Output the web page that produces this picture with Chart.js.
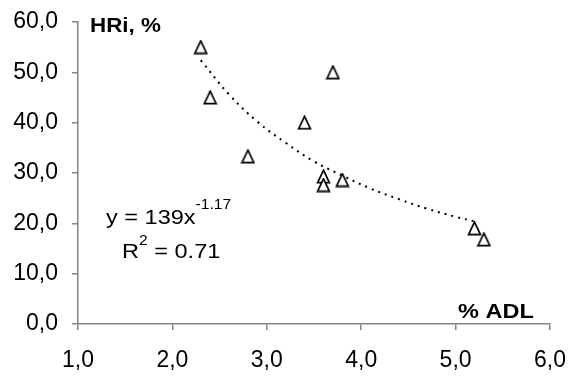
<!DOCTYPE html>
<html>
<head>
<meta charset="utf-8">
<script src="https://cdn.jsdelivr.net/npm/chart.js@4/dist/chart.umd.min.js"></script>
<style>
  html, body { margin: 0; padding: 0; background: #fff; }
  #wrap { width: 571px; height: 376px; }
</style>
</head>
<body>
<div id="wrap"><canvas id="grafica"></canvas></div>
<script>
// Puntos medidos (% ADL, HRi %)
const adl = [2.3, 2.4, 2.8, 3.4, 3.6, 3.6, 3.7, 3.8, 5.2, 5.3];
const hri = [55.0, 45.0, 33.3, 40.0, 29.3, 27.6, 50.0, 28.6, 19.0, 16.8];

// Línea de tendencia
const tendX = [2.3, 2.6, 2.9, 3.2, 3.5, 3.8, 4.1, 4.4, 4.7, 5.0, 5.2];
const tendY = [52.4, 45.6, 40.2, 36.0, 32.3, 29.5, 26.9, 24.8, 22.9, 21.3, 20.4];

const xTicks = [1, 2, 3, 4, 5, 6];
const yTicks = [0, 10, 20, 30, 40, 50, 60];

const fuente = "'Liberation Sans', Arial, sans-serif";
const gris = "#848484";
const estirar = 1.12; // el original está algo ensanchado

function coma(v) {
  return Number(v).toFixed(1).replace(".", ",");
}

// marcador triangular hueco, algo más alto que ancho
function triangulo() {
  const c = document.createElement("canvas");
  c.width = 15;
  c.height = 15;
  const g = c.getContext("2d");
  g.fillStyle = "#fff";
  g.strokeStyle = "#000";
  g.lineWidth = 1.7;
  g.lineJoin = "miter";
  g.beginPath();
  g.moveTo(7.5, 1.2);
  g.lineTo(13.4, 13.6);
  g.lineTo(1.6, 13.6);
  g.closePath();
  g.fill();
  g.stroke();
  return c;
}

// escribe texto ensanchado; devuelve la x final
function texto(ctx, s, x, y, font) {
  ctx.font = font;
  ctx.save();
  ctx.translate(x, y);
  ctx.scale(estirar, 1);
  ctx.fillText(s, 0, 0);
  ctx.restore();
  return x + ctx.measureText(s).width * estirar;
}

// Textos: títulos de ejes y ecuación
const textos = {
  id: "textos",
  afterDraw(chart) {
    const ctx = chart.ctx;
    ctx.save();
    ctx.fillStyle = "#000";
    ctx.textBaseline = "alphabetic";
    ctx.textAlign = "left";

    texto(ctx, "HRi, %", 90, 32, "bold 20px " + fuente);
    texto(ctx, "% ADL", 458, 318, "bold 21px " + fuente);

    let x = texto(ctx, "y = 139x", 106, 224, "21px " + fuente);
    texto(ctx, "-1.17", x, 209, "14px " + fuente);

    x = texto(ctx, "R", 122, 258, "21px " + fuente);
    x = texto(ctx, "2", x, 245, "14px " + fuente);
    texto(ctx, " = 0.71", x, 258, "21px " + fuente);
    ctx.restore();
  }
};

let chart = null;

function dibujarGrafica() {
  const ctx = document.getElementById("grafica").getContext("2d");
  if (chart) chart.destroy();

  const marca = triangulo();

  chart = new Chart(ctx, {
    type: "scatter",
    data: {
      datasets: [
        {
          label: "HRi",
          data: adl.map((x, i) => ({ x: x, y: hri[i] })),
          pointStyle: marca,
          pointRadius: 7,
          pointHoverRadius: 7,
          order: 1
        },
        {
          label: "Tendencia",
          data: tendX.map((x, i) => ({ x: x, y: tendY[i] })),
          showLine: true,
          pointRadius: 0,
          borderColor: "#000",
          borderWidth: 2,
          borderDash: [2, 5],
          tension: 0.4,
          order: 2
        }
      ]
    },
    options: {
      responsive: true,
      maintainAspectRatio: false,
      animation: false,
      devicePixelRatio: 1,
      layout: { padding: { top: 22, right: 21, left: 0, bottom: 0 } },
      plugins: {
        legend: { display: false },
        tooltip: { enabled: false }
      },
      scales: {
        x: {
          type: "linear",
          min: 1,
          max: 6,
          afterFit(s) { s.height = 52; s.paddingRight = 0; },
          afterBuildTicks(s) { s.ticks = xTicks.map(v => ({ value: v })); },
          grid: { drawOnChartArea: false, drawTicks: true, tickLength: 6, color: gris, lineWidth: 1.5 },
          border: { color: gris, width: 1.5 },
          ticks: {
            color: "#000",
            font: { family: fuente, size: 23 },
            padding: 17,
            maxRotation: 0,
            callback: v => coma(v)
          }
        },
        y: {
          min: 0,
          max: 60,
          afterFit(s) { s.width = 78; s.paddingTop = 0; },
          afterBuildTicks(s) { s.ticks = yTicks.map(v => ({ value: v })); },
          grid: { drawOnChartArea: false, drawTicks: true, tickLength: 6, color: gris, lineWidth: 1.5 },
          border: { color: gris, width: 1.5 },
          ticks: {
            color: "#000",
            font: { family: fuente, size: 23 },
            padding: 14,
            callback: v => coma(v)
          }
        }
      }
    },
    plugins: [textos]
  });
}

dibujarGrafica();
</script>
</body>
</html>
